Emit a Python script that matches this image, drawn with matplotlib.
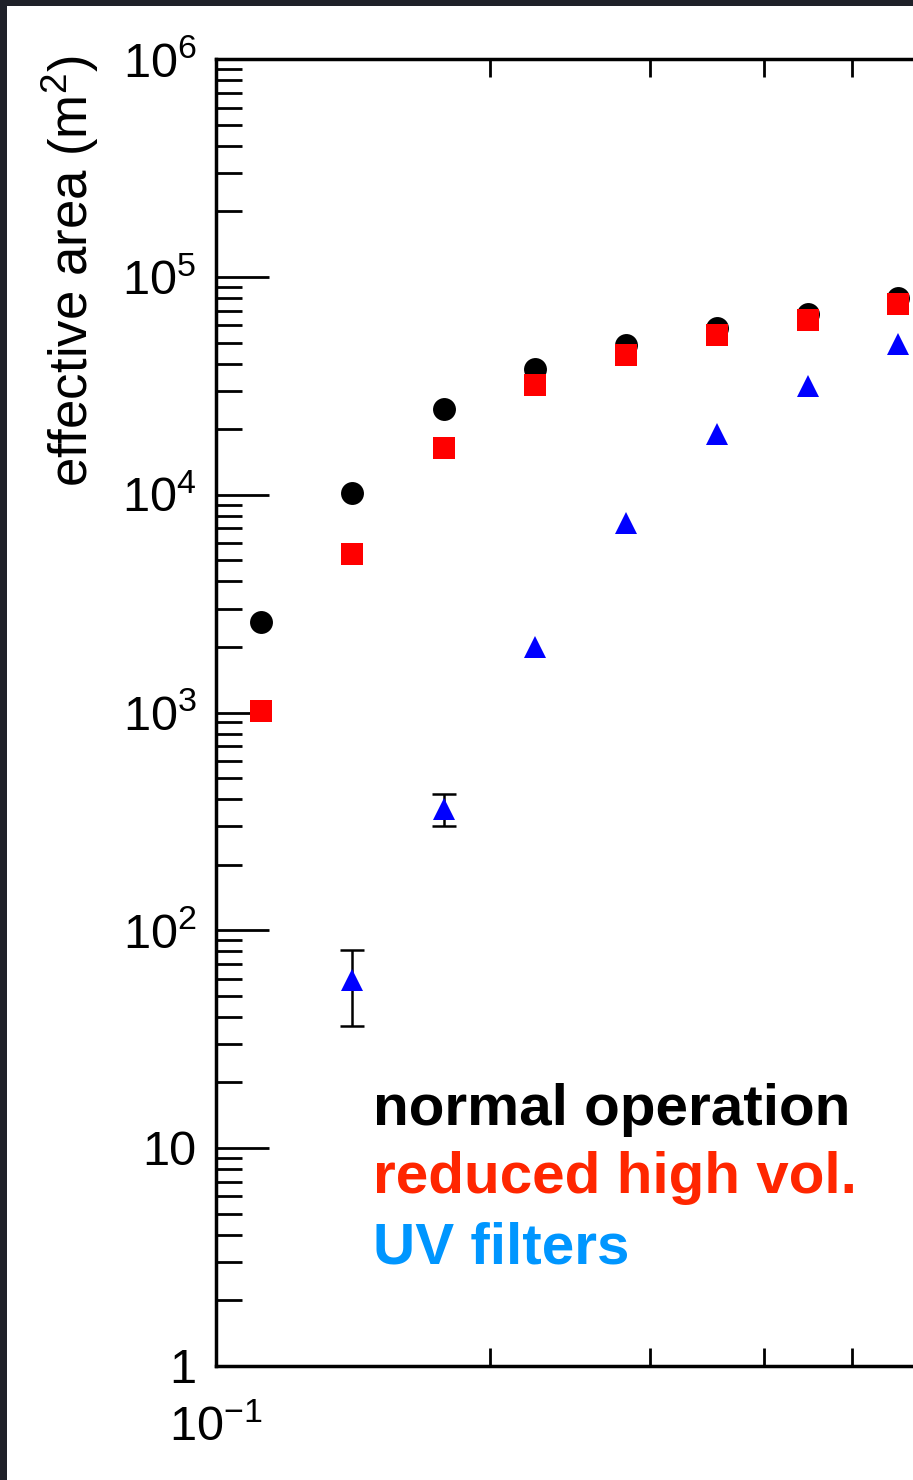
import matplotlib
matplotlib.use("Agg")
import matplotlib.pyplot as plt
from matplotlib.patches import Rectangle
from matplotlib.ticker import FixedLocator, FixedFormatter, NullFormatter

plt.rcParams['font.family'] = ['Liberation Sans', 'DejaVu Sans']
plt.rcParams['mathtext.fontset'] = 'custom'
plt.rcParams['mathtext.rm'] = 'Liberation Sans'
plt.rcParams['mathtext.it'] = 'Liberation Sans:italic'
plt.rcParams['mathtext.bf'] = 'Liberation Sans:bold'

# energy bin centres (TeV)
energia = [0.112, 0.141, 0.178, 0.224, 0.282, 0.355, 0.447, 0.562]

# effective area (m^2)
area_normal = [2600, 10200, 24700, 37900, 48800, 58200, 67500, 80000]
area_reduzida = [1020, 5340, 16440, 31800, 43800, 54200, 63300, 75200]
energia_uv = [0.141, 0.178, 0.224, 0.282, 0.355, 0.447, 0.562]
area_uv = [59, 362, 2000, 7380, 19000, 31700, 49100]
erro_uv = [22.5, 62, 0, 0, 0, 0, 0]

y_ticks = [1, 10, 100, 1e3, 1e4, 1e5, 1e6]
y_labels = ["1", "10", "$10^2$", "$10^3$", "$10^4$", "$10^5$", "$10^6$"]
x_ticks = [0.1]
x_labels = ["$10^{-1}$"]

W, H = 913, 1480
fig = plt.figure(figsize=(W / 100, H / 100), dpi=100, facecolor='#1f2129')
fig.add_artist(Rectangle((7 / W, 0), 1, 1 - 6 / H, transform=fig.transFigure,
                         facecolor='white', edgecolor='none', zorder=-10))

# axes run past the right edge of the figure
ax = fig.add_axes([216 / W, (H - 1365.7) / H, 910 / W, 1306.4 / H])
ax.set_xscale('log')
ax.set_yscale('log')
ax.set_xlim(0.1, 1.0)
ax.set_ylim(1, 1e6)

ax.plot(energia, area_normal, 'o', color='black', ms=16.5, mew=0, zorder=3)
ax.plot(energia, area_reduzida, 's', color='#ff0000', ms=16.5, mew=0, zorder=4)
# only the two lowest UV points have visible error bars
ax.errorbar(energia_uv[:2], area_uv[:2], yerr=erro_uv[:2], fmt='none', ecolor='black',
            elinewidth=1.8, capsize=8.5, capthick=1.8, zorder=5)
ax.plot(energia_uv, area_uv, '^', color='#0000ff', ms=16.5, mew=0, zorder=6)

for s in ax.spines.values():
    s.set_linewidth(2.5)

ax.yaxis.set_major_locator(FixedLocator(y_ticks))
ax.yaxis.set_major_formatter(FixedFormatter(y_labels))
ax.yaxis.set_minor_formatter(NullFormatter())
ax.xaxis.set_major_locator(FixedLocator(x_ticks))
ax.xaxis.set_major_formatter(FixedFormatter(x_labels))
ax.xaxis.set_minor_formatter(NullFormatter())

ax.tick_params(which='both', direction='in', top=True, right=True, width=2, labelsize=35)
ax.tick_params(axis='y', which='major', length=38, pad=14)
ax.tick_params(axis='y', which='minor', length=19)
ax.tick_params(axis='x', which='major', length=26, pad=29)
ax.tick_params(axis='x', which='minor', length=13)

fig.text(70 / W, 1 - 55 / H, "effective area (m$^2$)", rotation=90, ha='center', va='top',
         fontsize=38)

fig.text(373 / W, 1 - 1125 / H, "normal operation", color='black', fontsize=42,
         fontweight='bold', va='baseline')
fig.text(373 / W, 1 - 1193 / H, "reduced high vol.", color='#ff2600', fontsize=42,
         fontweight='bold', va='baseline')
fig.text(373 / W, 1 - 1263 / H, "UV filters", color='#0096ff', fontsize=42,
         fontweight='bold', va='baseline')

fig.savefig("out.png", dpi=100, facecolor=fig.get_facecolor())
